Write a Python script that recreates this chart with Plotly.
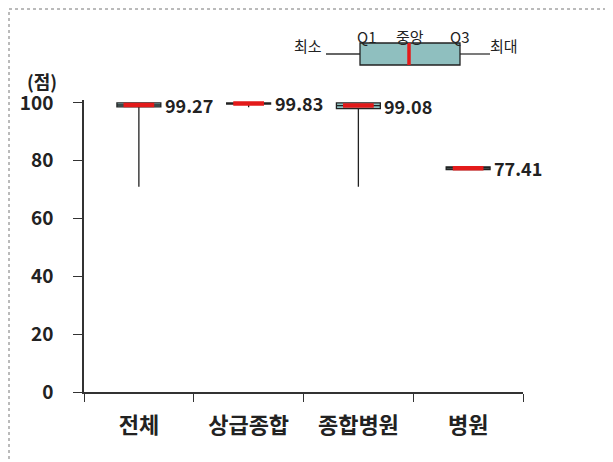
import plotly.graph_objects as go

categories = ["전체", "상급종합", "종합병원", "병원"]
min_vals = [71.0, 98.5, 71.0, 76.9]
q1_vals = [98.6, 99.6, 98.0, 76.9]
median_vals = [99.27, 99.83, 99.08, 77.41]
q3_vals = [100.0, 100.0, 100.0, 77.9]
max_vals = [100.0, 100.0, 100.0, 77.9]
median_labels = ["99.27", "99.83", "99.08", "77.41"]
y_ticks = [0, 20, 40, 60, 80, 100]

FONT = "Noto Sans CJK KR"
TXT = "#222222"

fig = go.Figure()

fig.add_trace(go.Box(
    x=categories, q1=q1_vals, median=median_vals, q3=q3_vals,
    lowerfence=min_vals, upperfence=max_vals,
    width=0.4, whiskerwidth=0,
    line=dict(color="#222222", width=1.3),
    fillcolor="#8fc2c2", boxpoints=False, hoverinfo="skip",
    showlegend=False,
))
fig.add_trace(go.Box(
    x=categories, q1=median_vals, median=median_vals, q3=median_vals,
    lowerfence=median_vals, upperfence=median_vals,
    width=0.28, whiskerwidth=0,
    line=dict(color="#e31a1a", width=4.5),
    fillcolor="#e31a1a", boxpoints=False, hoverinfo="skip",
    showlegend=False,
))

for c, m, lab in zip(categories, median_vals, median_labels):
    fig.add_annotation(x=c, y=m, text=lab, showarrow=False, xanchor="left",
                       yanchor="middle", xshift=24,
                       font=dict(family=FONT, size=18, color=TXT, weight="bold"))

# screen-pixel -> paper helpers (plot area spans x 84..523, y 100..392 on screen)
def px(x):
    return (x - 84) / 439

def py(y):
    return 1 + (100 - y) / 292

# y unit label
fig.add_annotation(xref="paper", yref="paper", x=px(42), y=py(81),
                   text="(점)", showarrow=False, xanchor="center", yanchor="middle",
                   font=dict(family=FONT, size=18, color=TXT, weight="bold"))

shapes = [
    dict(type="rect", xref="paper", yref="paper", x0=px(9), x1=px(606), y0=py(9), y1=py(480),
         line=dict(color="#777777", width=1, dash="dot")),
    dict(type="line", xref="paper", yref="paper", x0=px(326), x1=px(360), y0=py(54), y1=py(54),
         line=dict(color="#333333", width=1.3)),
    dict(type="line", xref="paper", yref="paper", x0=px(460), x1=px(490), y0=py(54), y1=py(54),
         line=dict(color="#333333", width=1.3)),
    dict(type="rect", xref="paper", yref="paper", x0=px(360), x1=px(460), y0=py(65), y1=py(43),
         line=dict(color="#222222", width=1.3), fillcolor="#8fbfbf"),
    dict(type="line", xref="paper", yref="paper", x0=px(409), x1=px(409), y0=py(65), y1=py(43),
         line=dict(color="#e31a1a", width=3.5)),
]
legend_texts = [("최소", 308, 46), ("Q1", 366, 37), ("중앙", 410, 37), ("Q3", 459, 37), ("최대", 504, 46)]
for t, xx, yy in legend_texts:
    fig.add_annotation(xref="paper", yref="paper", x=px(xx), y=py(yy), text=t,
                       showarrow=False, xanchor="center", yanchor="middle",
                       font=dict(family=FONT, size=15, color=TXT))

# page body has an 8px margin, so margins are offset by 8px to place the plot area
fig.update_layout(
    width=613, height=462,
    margin=dict(l=76, r=98, t=92, b=78, autoexpand=False),
    paper_bgcolor="white", plot_bgcolor="white",
    boxmode="overlay",
    shapes=shapes,
    xaxis=dict(type="category", range=[-0.5, 3.5], tickson="boundaries", automargin=False,
               showline=True, linecolor="#333333", linewidth=1.5,
               ticks="outside", ticklen=8, tickcolor="#333333", tickwidth=1.3,
               showgrid=False, zeroline=False, ticklabelstandoff=13,
               tickfont=dict(family=FONT, size=22, color=TXT, weight="bold")),
    yaxis=dict(range=[0, 101], tickvals=y_ticks, automargin=False,
               showline=True, linecolor="#333333", linewidth=1.5,
               ticks="outside", ticklen=9, tickcolor="#333333", tickwidth=1.3,
               showgrid=False, zeroline=False, ticklabelstandoff=16,
               tickfont=dict(family=FONT, size=19, color=TXT, weight="bold")),
)

fig.write_html("out.html")
